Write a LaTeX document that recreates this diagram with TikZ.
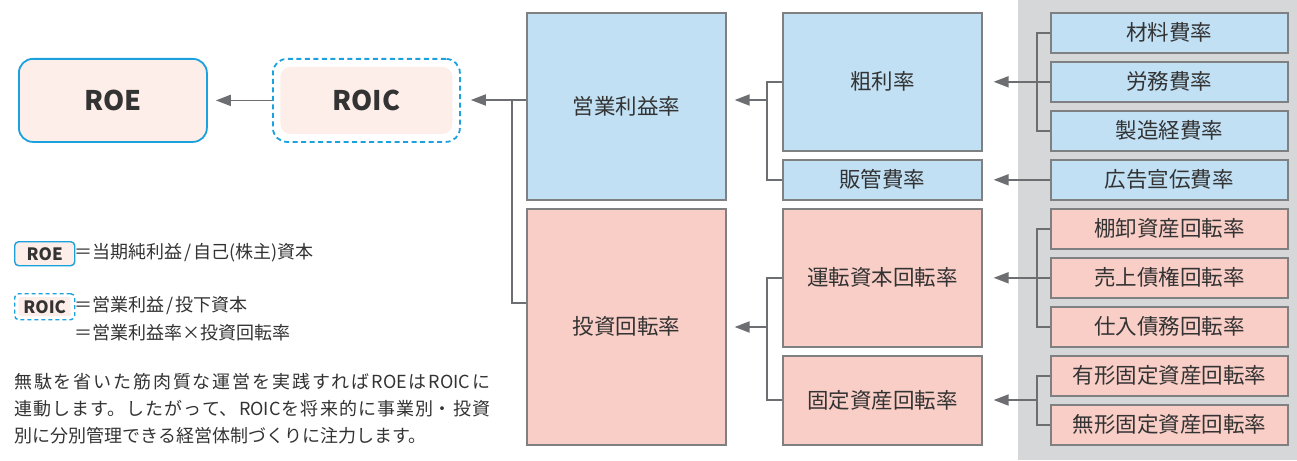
\documentclass[tikz,border=0pt]{standalone}
\usepackage{fontspec}
\setmainfont{Noto Sans CJK JP}
\usetikzlibrary{arrows.meta}
\definecolor{bluefill}{HTML}{C1E0F4}
\definecolor{pinkfill}{HTML}{F9CEC7}
\definecolor{roefill}{HTML}{FDEEE9}
\definecolor{boxline}{HTML}{7F8082}
\definecolor{arrgray}{HTML}{6D6E71}
\definecolor{roeblue}{HTML}{1BA1DD}
\definecolor{panel}{HTML}{D6D7D9}
\definecolor{txt}{HTML}{333333}
\begin{document}
\begin{tikzpicture}[x=1pt,y=-1pt,
  box/.style={draw=boxline, line width=1.6pt, inner sep=0pt, anchor=north west, text=txt, font=\fontsize{21.5}{24}\selectfont},
  bbox/.style={box, fill=bluefill},
  pbox/.style={box, fill=pinkfill},
  conn/.style={draw=arrgray, line width=1.8pt},
  arr/.style={conn, -{Triangle[length=15pt,width=11pt]}},
  plain/.style={inner sep=0pt, text=txt},
]
\useasboundingbox (0,0) rectangle (1297,460);
\fill[panel] (1018,0) rectangle (1297,460);

% left big nodes
\node[draw=roeblue, line width=1.8pt, fill=roefill, rounded corners=14pt, minimum width=188pt, minimum height=83pt, anchor=north west, text=txt, font=\bfseries\fontsize{27}{30}\selectfont] (roe) at (18,58) {ROE};
\node[draw=roeblue, line width=1.8pt, dash pattern=on 5pt off 3.5pt, rounded corners=14pt, minimum width=187pt, minimum height=83pt, anchor=north west] (roic) at (272,58) {};
\node[fill=roefill, rounded corners=10pt, minimum width=172pt, minimum height=67pt, text=txt, font=\bfseries\fontsize{27}{30}\selectfont] (roict) at (roic.center) {ROIC};

% column 1
\node[bbox, minimum width=199pt, minimum height=187pt] (eig) at (526,12) {営業利益率};
\node[pbox, minimum width=199pt, minimum height=236pt] (tos) at (526,208) {投資回転率};
% column 2
\node[bbox, minimum width=199pt, minimum height=138pt] (sor) at (782,12) {粗利率};
\node[bbox, minimum width=199pt, minimum height=40pt] (han) at (782,159) {販管費率};
\node[pbox, minimum width=199pt, minimum height=138pt] (unt) at (782,208) {運転資本回転率};
\node[pbox, minimum width=199pt, minimum height=89pt] (kot) at (782,355) {固定資産回転率};
% column 3
\node[bbox, minimum width=237pt, minimum height=40pt] (zai) at (1050,12) {材料費率};
\node[bbox, minimum width=237pt, minimum height=40pt] (rom) at (1050,61) {労務費率};
\node[bbox, minimum width=237pt, minimum height=40pt] (sei) at (1050,110) {製造経費率};
\node[bbox, minimum width=237pt, minimum height=40pt] (kou) at (1050,159) {広告宣伝費率};
\node[pbox, minimum width=237pt, minimum height=40pt] (tan) at (1050,208) {棚卸資産回転率};
\node[pbox, minimum width=237pt, minimum height=40pt] (uri) at (1050,257) {売上債権回転率};
\node[pbox, minimum width=237pt, minimum height=40pt] (shi) at (1050,306) {仕入債務回転率};
\node[pbox, minimum width=237pt, minimum height=40pt] (yuu) at (1050,355) {有形固定資産回転率};
\node[pbox, minimum width=237pt, minimum height=40pt] (mu) at (1050,404) {無形固定資産回転率};

% connectors
\draw[arr] (roic.west) -- ([xshift=8pt]roe.east);
\coordinate (j0) at (512,100);
\coordinate (j1) at (512,303);
\draw[conn] (eig.west |- j0) -| (j1) -- (tos.west |- j1);
\draw[arr] (j0) -- ([xshift=10pt]roic.east |- j0);

\coordinate (m1) at (767,100);
\draw[conn] (sor.west) -| (m1) |- (han.west);
\draw[arr] (m1) -- ([xshift=8pt]eig.east |- m1);
\coordinate (m2) at (767,327);
\draw[conn] (unt.west) -| (m2) |- (kot.west);
\draw[arr] (m2) -- ([xshift=8pt]tos.east |- m2);

\coordinate (r1) at (1037,81);
\draw[conn] (zai.west) -| (r1) |- (sei.west);
\draw[arr] (rom.west) -- ([xshift=11pt]sor.east |- rom.west);
\draw[arr] (kou.west) -- ([xshift=11pt]han.east |- kou.west);
\coordinate (r3) at (1037,277);
\draw[conn] (tan.west) -| (r3) |- (shi.west);
\draw[arr] (uri.west) -- ([xshift=11pt]unt.east |- uri.west);
\coordinate (r4) at (1037,400);
\draw[conn] (yuu.west) -| (r4) |- (mu.west);
\draw[arr] (r4) -- ([xshift=11pt]kot.east |- r4);

% legend
\node[draw=roeblue, line width=1.4pt, fill=roefill, rounded corners=4pt, minimum width=60pt, minimum height=24pt, anchor=north west, inner sep=0pt, text=txt, font=\bfseries\fontsize{17}{18}\selectfont] (lroe) at (14,241) {ROE};
\node[plain, anchor=west, font=\fontsize{18}{20}\selectfont] (lroet) at (74,253) {＝当期純利益\hspace{2pt}/\hspace{2pt}自己(株主)資本};
\node[draw=roeblue, line width=1.4pt, dash pattern=on 4pt off 3pt, rounded corners=4pt, minimum width=60pt, minimum height=26pt, anchor=north west, inner sep=0pt] (lroic) at (14,293) {};
\node[fill=roefill, rounded corners=2pt, minimum width=52pt, minimum height=19pt, inner sep=0pt, text=txt, font=\bfseries\fontsize{17}{18}\selectfont] (lroict) at (lroic.center) {ROIC};
\node[plain, anchor=west, font=\fontsize{18}{20}\selectfont] (lroict1) at (74,306) {＝営業利益\hspace{2pt}/\hspace{2pt}投下資本};
\node[plain, anchor=west, font=\fontsize{18}{20}\selectfont] (lroict2) at (74,333) {＝営業利益率×投資回転率};

\node[plain, anchor=north west, text width=476pt, align=justify, font=\fontsize{18}{27}\selectfont] (para) at (14,373) {\XeTeXlinebreaklocale "ja"\XeTeXlinebreakskip=0pt plus 3pt%
無駄を省いた筋肉質な運営を実践すればROEはROICに\linebreak
連動します。したがって、ROICを将来的に事業別・投資\linebreak
別に分別管理できる経営体制づくりに注力します。};
\end{tikzpicture}
\end{document}
